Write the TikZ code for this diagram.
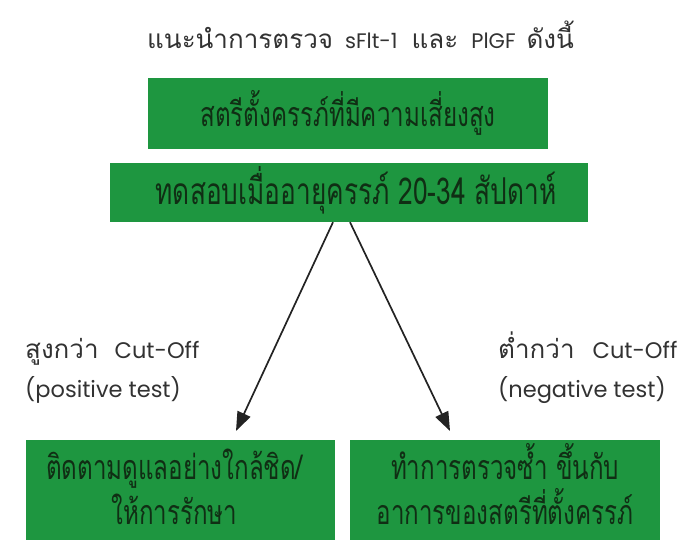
\documentclass[tikz,border=0pt]{standalone}
\usepackage{fontspec}
\usetikzlibrary{arrows.meta}
\newfontfamily\thaifont[Script=Thai]{Loma}
\newfontfamily\thaicond[Script=Thai,FakeStretch=0.71]{Loma}
\newfontfamily\latfont{Poppins}
\definecolor{boxgreen}{RGB}{30,150,64}
\definecolor{boxtext}{RGB}{16,46,20}
\definecolor{inktext}{RGB}{50,50,50}
\definecolor{arrowink}{RGB}{35,35,35}
\tikzset{
  greenbox/.style={fill=boxgreen, draw=none, inner sep=0pt, align=center, text=boxtext, font=\thaicond\fontsize{34}{40}\selectfont},
  boxline/.style={inner sep=0pt, text=boxtext, font=\thaicond\fontsize{34}{40}\selectfont, anchor=base},
  plain/.style={inner sep=0pt, text=inktext, anchor=base west},
  arr/.style={draw=arrowink, line width=1.7pt, -{Triangle[length=19pt,width=14pt]}}
}
\newcommand{\thl}[1]{{\thaifont\fontsize{26}{30}\selectfont #1}}
\newcommand{\lat}[1]{{\latfont\fontsize{22.5}{26}\selectfont #1}}
\begin{document}
\begin{tikzpicture}[x=1pt,y=-1pt]
\useasboundingbox (0,0) rectangle (698,539);
\node[plain] (title) at (147,48) {{\thaifont\fontsize{26}{30}\selectfont แนะนำการตรวจ}\hspace{12pt}{\latfont\fontsize{21}{26}\selectfont sFlt-1}\hspace{14pt}{\thaifont\fontsize{26}{30}\selectfont และ}\hspace{13pt}{\latfont\fontsize{21}{26}\selectfont PlGF}\hspace{11pt}{\thaifont\fontsize{26}{30}\selectfont ดังนี้}};
\node[greenbox, minimum width=400pt, minimum height=71pt] (b1) at (348,113) {สตรีตั้งครรภ์ที่มีความเสี่ยงสูง};
\node[greenbox, minimum width=478pt, minimum height=59pt] (b2) at (349,192.5) {};
\node[boxline, font=\thaicond\fontsize{37}{40}\selectfont] (b2t) at (356,204) {ทดสอบเมื่ออายุครรภ์ 20-34 สัปดาห์};
\node[greenbox, minimum width=309pt, minimum height=110pt, anchor=north west] (b3) at (26,440) {};
\node[greenbox, minimum width=310pt, minimum height=110pt, anchor=north west] (b4) at (350,440) {};
\node[boxline] (b3t1) at (174.5,479) {ติดตามดูแลอย่างใกล้ชิด/};
\node[boxline] (b3t2) at (174.5,524) {ให้การรักษา};
\node[boxline] (b4t1) at (505,479) {ทำการตรวจซ้ำ ขึ้นกับ};
\node[boxline] (b4t2) at (505,524) {อาการของสตรีที่ตั้งครรภ์};
\node[plain] (l1) at (25,358) {\thl{สูงกว่า}\hspace{16pt}\lat{Cut-Off}};
\node[plain] (l2) at (25,397) {\lat{(positive test)}};
\node[plain] (r1) at (498,358) {\thl{ต่ำกว่า}\hspace{18pt}\lat{Cut-Off}};
\node[plain] (r2) at (498,397) {\lat{(negative test)}};
\coordinate (t1) at (236,431);
\coordinate (t2) at (450,431);
\draw[arr] ([xshift=-16pt]b2.south) -- (t1);
\draw[arr] ([xshift=1pt]b2.south) -- (t2);
\end{tikzpicture}
\end{document}
